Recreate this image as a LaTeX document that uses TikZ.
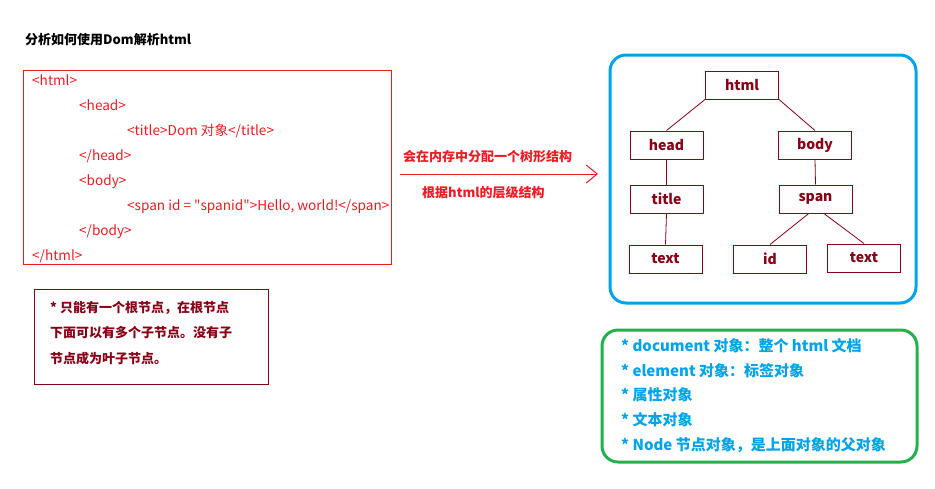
\documentclass[tikz,border=0pt]{standalone}
\usepackage{fontspec}
\setmainfont{Noto Sans CJK SC}
\usetikzlibrary{arrows.meta}
\definecolor{codered}{RGB}{237,28,36}
\definecolor{darkred}{RGB}{136,0,21}
\definecolor{skyblue}{RGB}{0,162,232}
\definecolor{leafgreen}{RGB}{34,177,76}

\begin{document}
\begin{tikzpicture}[x=1pt, y=-1pt,
		  code/.style={anchor=base west, inner sep=0pt, text=codered, font=\fontsize{13.6}{13.6}\selectfont},
		  note/.style={anchor=base west, inner sep=0pt, font=\fontsize{13}{13}\selectfont\bfseries},
		  item/.style={anchor=base west, inner sep=0pt, text=skyblue, font=\fontsize{15}{15}\selectfont\bfseries},
		  tag/.style={draw=darkred, line width=1pt, text=darkred, minimum width=73pt, minimum height=28pt, inner sep=0pt, font=\fontsize{14}{14}\selectfont\bfseries},
		  edge/.style={darkred, line width=0.8pt}]
		  \useasboundingbox (0,0) rectangle (935,488);
		  \node[note, text=black] (title) at (25,44) {分析如何使用Dom解析html};
		  % html source
		  \draw[codered, line width=1pt] (23,70) rectangle (391,264);
		  \node[code] (c1) at (32,85) {<html>};
		  \node[code] (c2) at (79,110) {<head>};
		  \node[code] (c3) at (127,135) {<title>Dom 对象</title>};
		  \node[code] (c4) at (79,160) {</head>};
		  \node[code] (c5) at (79,185) {<body>};
		  \node[code] (c6) at (127,210) {<span id = \textquotedbl spanid\textquotedbl>Hello, world!</span>};
		  \node[code] (c7) at (79,235) {</body>};
		  \node[code] (c8) at (32,260) {</html>};
		  \draw[darkred, line width=1pt] (34,289) rectangle (268,384);
		  \node[note, text=darkred] (n1) at (50,312) {* 只能有一个根节点，在根节点};
		  \node[note, text=darkred] (n2) at (50,337) {下面可以有多个子节点。没有子};
		  \node[note, text=darkred] (n3) at (50,363) {节点成为叶子节点。};
		  % arrow
		  \coordinate (from) at (400,174);
		  \coordinate (to) at (598,174);
		  \draw[codered, line width=1pt, -{Straight Barb[length=11pt, width=18pt, line width=1pt]}] (from) -- (to);
		  \node[note, text=codered] (up) at (403,161) {会在内存中分配一个树形结构};
		  \node[note, text=codered] (down) at (422,197) {根据html的层级结构};
		  % tree
		  \draw[skyblue, line width=3pt, rounded corners=16pt] (610,55) rectangle (916,303);
		  \node[tag] (html) at (742,85) {html};
		  \node[tag] (head) at (666.5,145) {head};
		  \node[tag] (body) at (815,145) {body};
		  \node[tag] (tl) at (666.5,199) {title};
		  \node[tag] (span) at (815.5,199) {span};
		  \node[tag] (txt1) at (665.5,259) {text};
		  \node[tag] (id) at (770,259) {id};
		  \node[tag] (txt2) at (864,258) {text};
		  \draw[edge] (html.south west) -- (head.north);
		  \draw[edge] (html.south east) -- (body.north);
		  \draw[edge] (head.south) -- (tl.north);
		  \draw[edge] (tl.south) -- (txt1.north);
		  \draw[edge] (body.south) -- (span.north);
		  \draw[edge] (span.-115) -- (id.north);
		  \draw[edge] (span.-60) -- (txt2.north);
		  % objects
		  \draw[leafgreen, line width=3pt, rounded corners=16pt] (602,330) rectangle (917,462);
		  \foreach \i/\y/\t in {1/351/{* document 对象：整个 html 文档},
		                        2/376/{* element 对象：标签对象},
		                        3/400/{* 属性对象},
		                        4/425/{* 文本对象},
		                        5/450/{* Node 节点对象，是上面对象的父对象}}{
		      \node[item] (item\i) at (621,\y) {\t};
		  }
	\end{tikzpicture}
\end{document}
